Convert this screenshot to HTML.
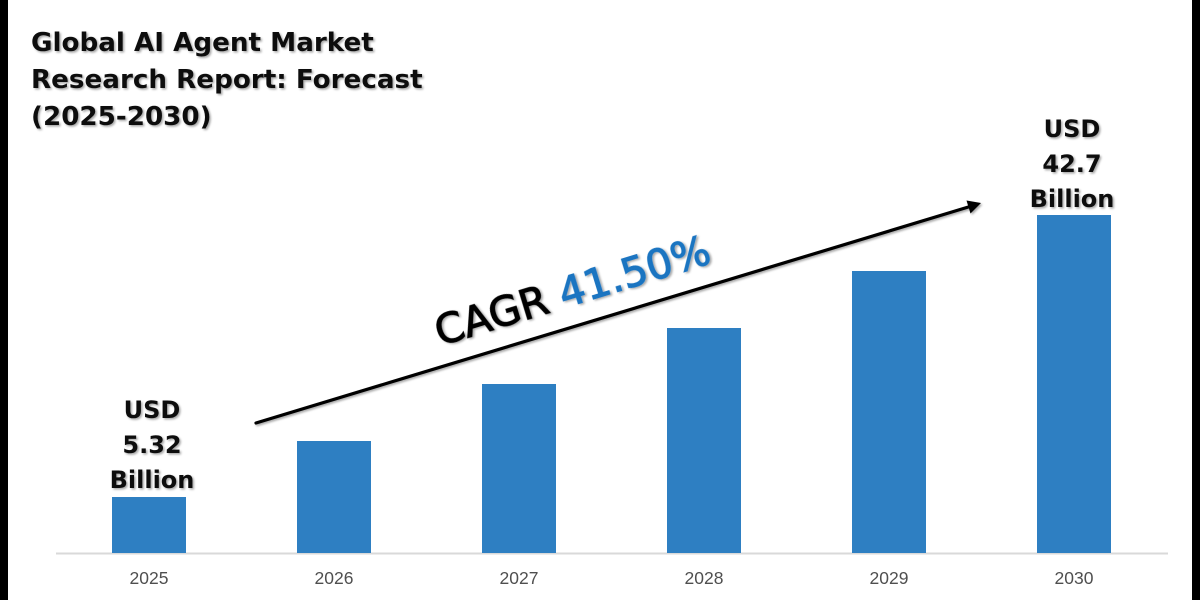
<!DOCTYPE html>
<html>
<head>
<meta charset="utf-8">
<style>
html,body{margin:0;padding:0;background:#fff;}
body{width:1200px;height:600px;overflow:hidden;}
svg{display:block;}
</style>
</head>
<body>
<svg width="1200" height="600" viewBox="0 0 1200 600" xmlns="http://www.w3.org/2000/svg">
  <defs>
    <filter id="sh" x="-10%" y="-10%" width="130%" height="140%">
      <feDropShadow dx="1.5" dy="1.5" stdDeviation="1" flood-color="#000" flood-opacity="0.35"/>
    </filter>
  </defs>
  <rect x="0" y="0" width="1200" height="600" fill="#fff"/>
  <rect x="0" y="0" width="8" height="600" fill="#000"/>
  <rect x="1192" y="0" width="8" height="600" fill="#000"/>

  <!-- title -->
  <g font-family="'DejaVu Sans', sans-serif" font-weight="bold" font-size="26.2" fill="#111" filter="url(#sh)">
    <text x="31" y="51">Global AI Agent Market</text>
    <text x="31" y="88">Research Report: Forecast</text>
    <text x="31" y="125">(2025-2030)</text>
  </g>

  <!-- axis -->
  <rect x="56" y="552.5" width="1112" height="2" fill="#d9d9d9"/>

  <!-- bars -->
  <g fill="#2e7fc2">
    <rect x="112" y="497" width="74" height="56"/>
    <rect x="297" y="441" width="74" height="112"/>
    <rect x="482" y="384" width="74" height="169"/>
    <rect x="667" y="328" width="74" height="225"/>
    <rect x="852" y="271" width="74" height="282"/>
    <rect x="1037" y="215" width="74" height="338"/>
  </g>

  <!-- year labels -->
  <g font-family="'Liberation Sans', sans-serif" font-size="17.5" fill="#4f4f4f" text-anchor="middle">
    <text x="149" y="584">2025</text>
    <text x="334" y="584">2026</text>
    <text x="519" y="584">2027</text>
    <text x="704" y="584">2028</text>
    <text x="889" y="584">2029</text>
    <text x="1074" y="584">2030</text>
  </g>

  <!-- value labels -->
  <g font-family="'DejaVu Sans', sans-serif" font-weight="bold" font-size="24" fill="#111" text-anchor="middle" filter="url(#sh)">
    <text x="152" y="418">USD</text>
    <text x="152" y="453">5.32</text>
    <text x="152" y="488">Billion</text>
    <text x="1072" y="137">USD</text>
    <text x="1072" y="172">42.7</text>
    <text x="1072" y="207">Billion</text>
  </g>

  <!-- arrow -->
  <g filter="url(#sh)">
    <line x1="256" y1="423" x2="970" y2="206.5" stroke="#000" stroke-width="3.2" stroke-linecap="round"/>
    <polygon points="981,203 966.5,200.5 970.5,213.5" fill="#000"/>
  </g>

  <!-- CAGR text -->
  <g transform="translate(440,346) rotate(-17)" filter="url(#sh)">
    <text x="0" y="0" font-family="'DejaVu Sans', sans-serif" font-size="41" stroke-width="1.1"><tspan fill="#000" stroke="#000">CAGR </tspan><tspan fill="#1a74c1" stroke="#1a74c1">41.50%</tspan></text>
  </g>
</svg>
</body>
</html>
